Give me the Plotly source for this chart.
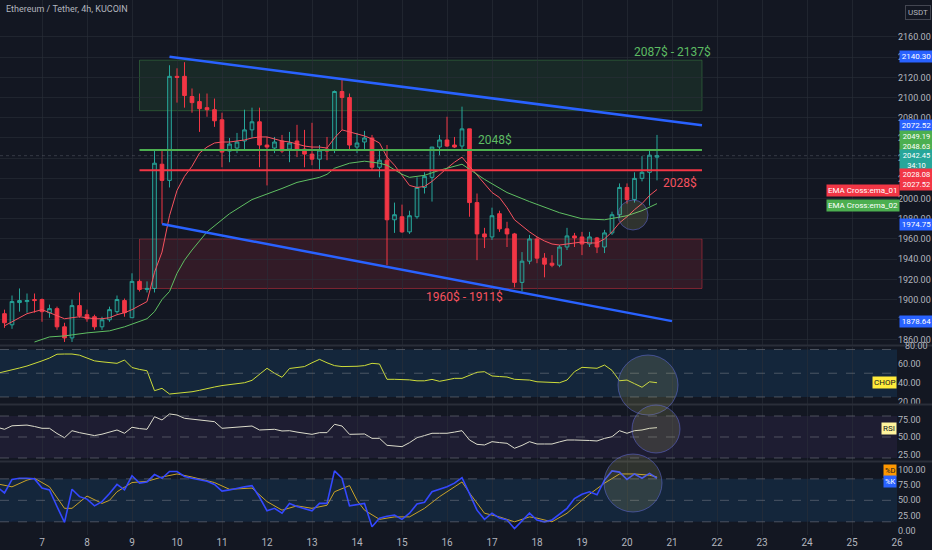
import pandas as pd
import plotly.graph_objects as go

# ETH/USDT 4h candles, candle n = 1..88 (n = 0 is 2023-11-06 00:00)
opens = [1886, 1875, 1897, 1898, 1900, 1900, 1887, 1891, 1873, 1862,
         1894, 1885, 1883, 1873, 1880, 1888, 1899, 1882, 1918, 1910,
         1911, 2034, 2018, 2121, 2121, 2101, 2096, 2090, 2088, 2078,
         2047, 2050, 2057, 2068, 2076, 2053, 2050, 2057, 2049, 2057,
         2049, 2044, 2039, 2049, 2048, 2106, 2100, 2051, 2056, 2060,
         2031, 2038, 1979, 1982, 1967, 1982, 2011, 2021, 2051, 2058,
         2053, 2052, 2069, 1996, 1965, 1962, 1985, 1970, 1965, 1917,
         1938, 1960, 1941, 1936, 1934, 1952, 1963, 1962, 1955, 1961,
         1952, 1966, 1984, 2011, 1999, 2020, 2026, 2041]
highs = [1890, 1904, 1911, 1906, 1906, 1901, 1895, 1893, 1877, 1900,
         1907, 1890, 1885, 1883, 1893, 1904, 1901, 1926, 1920, 1918,
         2048, 2048, 2132, 2129, 2135, 2109, 2104, 2104, 2099, 2085,
         2060, 2065, 2088, 2090, 2090, 2061, 2061, 2063, 2066, 2073,
         2068, 2075, 2053, 2061, 2107, 2118, 2104, 2065, 2067, 2063,
         2048, 2053, 1996, 1994, 1988, 2021, 2026, 2051, 2063, 2081,
         2061, 2091, 2069, 2005, 1971, 1991, 1988, 1977, 1966, 1947,
         1964, 1962, 1946, 1944, 1954, 1971, 1966, 1967, 1967, 1962,
         1969, 1987, 2015, 2015, 2026, 2042, 2048, 2063]
lows = [1872, 1871, 1888, 1887, 1887, 1878, 1882, 1870, 1858, 1858,
        1882, 1878, 1870, 1870, 1878, 1886, 1883, 1882, 1908, 1907,
        1907, 1975, 2011, 2095, 2090, 2085, 2066, 2081, 2071, 2031,
        2036, 2045, 2048, 2060, 2031, 2013, 2045, 2045, 2036, 2041,
        2031, 2033, 2028, 2038, 2045, 2068, 2048, 2045, 2048, 2028,
        2021, 1934, 1966, 1966, 1965, 1980, 2005, 1997, 2043, 2051,
        2050, 2048, 1982, 1939, 1951, 1959, 1967, 1952, 1912, 1908,
        1935, 1936, 1922, 1932, 1932, 1949, 1952, 1944, 1952, 1946,
        1946, 1964, 1981, 1995, 1996, 2017, 1993, 2018]
closes = [1877, 1898, 1899, 1899, 1899, 1888, 1891, 1873, 1862, 1894,
          1884, 1881, 1873, 1880, 1890, 1900, 1887, 1918, 1910, 1911,
          2035, 2018, 2121, 2120, 2102, 2095, 2089, 2088, 2077, 2046,
          2054, 2056, 2068, 2076, 2053, 2051, 2056, 2047, 2055, 2048,
          2044, 2039, 2048, 2047, 2106, 2100, 2053, 2055, 2060, 2031,
          2038, 1979, 1984, 1967, 1983, 2011, 2022, 2051, 2058, 2052,
          2051, 2069, 1996, 1965, 1962, 1983, 1970, 1965, 1917, 1938,
          1960, 1941, 1935, 1934, 1952, 1963, 1961, 1955, 1962, 1952,
          1966, 1984, 2011, 1999, 2020, 2026, 2043, 2042.45]

# EMA Cross: ema_01 (per candle n = 1..88), ema_02 (read at candle indices)
ema_01 = [1874, 1878, 1882, 1886, 1888, 1890, 1887, 1884, 1881, 1882,
          1883, 1882, 1881, 1881, 1882, 1885, 1887, 1890, 1894, 1898,
          1927, 1947, 1983, 2008, 2022, 2032, 2045, 2051, 2055, 2056,
          2056, 2057, 2058, 2060, 2061, 2061, 2059, 2057, 2056, 2054,
          2052, 2051, 2051, 2050, 2060, 2068, 2066, 2064, 2062, 2059,
          2055, 2041, 2033, 2023, 2013, 2011, 2012, 2017, 2024, 2030,
          2036, 2041, 2032, 2023, 2014, 2006, 2001, 1991, 1979, 1973,
          1967, 1962, 1958, 1955, 1954, 1955, 1956, 1957, 1956, 1956,
          1960, 1967, 1976, 1982, 1989, 1995, 2003, 2009]
ema_02_idx = [5, 7, 9, 12, 15, 17, 20, 21, 22, 23, 24, 25, 26, 28, 31, 34, 38, 40, 43, 44,
              45, 47, 49, 51, 52, 54, 55, 57, 59, 62, 63, 65, 68, 71, 75, 78, 81, 83, 84, 86, 88]
ema_02 = [1858, 1863, 1864, 1867, 1869, 1873, 1881, 1888, 1900, 1908, 1926, 1939, 1949, 1967,
          1985, 1999, 2010, 2016, 2021, 2024, 2030, 2035, 2037, 2035, 2033, 2024, 2021, 2023,
          2028, 2034, 2029, 2019, 2006, 1997, 1986, 1980, 1979, 1982, 1983, 1988, 1995]

# indicators, per candle n = 0..88
chop = [49.8, 51.5, 53.5, 55.5, 57.6, 60, 63, 66, 70, 70.2,
        70.2, 69, 66, 63, 62, 61, 60.4, 63.9, 56, 54,
        52.6, 31.6, 34.1, 28.1, 28.8, 29.5, 30.5, 32, 34, 35.5,
        37, 38, 39, 40, 42.5, 49, 55.2, 50, 45.7, 55,
        56, 57, 61, 64.6, 61, 58, 57, 57, 57.3, 58,
        60.4, 59.7, 43.6, 43.6, 43.5, 43, 42, 42, 43.5, 41.5,
        43, 44.6, 44.6, 47.5, 51, 51.6, 47.1, 46.5, 46, 43.6,
        43, 42.8, 41, 40.5, 40.3, 40, 42.8, 51.6, 56.2, 55.5,
        55.2, 58.6, 53, 42.1, 42.8, 39, 35.2, 41, 40]
rsi = [63.9, 61, 66, 67, 67, 65, 62.4, 62.4, 55, 49,
       59, 56.2, 54, 52, 54, 57, 60, 55.3, 63.9, 62,
       61, 79, 74.3, 82.9, 81.4, 76.7, 75.5, 74.3, 73, 71.9,
       62.4, 63, 63.9, 65, 65.7, 60, 60.5, 61, 58.6, 59,
       57, 55, 53.8, 56.2, 56.2, 68.1, 65.7, 53.8, 54, 54.3,
       48.1, 48.1, 38.1, 37, 36.2, 41.9, 49, 52, 55.3, 55.3,
       55.3, 57, 59, 45.7, 39.5, 38.6, 43.3, 42, 41, 33.9,
       38, 43.3, 40, 40, 40, 43, 45.7, 45.7, 45.7, 45,
       44.3, 48, 50.4, 59, 55.3, 59, 60, 62.4, 63.3]
stoch_k = [72, 62, 84, 86, 86, 85, 70, 67, 40, 14,
           68, 56, 52, 41, 48, 61, 76, 67, 90, 78,
           80, 92, 86, 97, 97, 89, 86, 84, 81, 76,
           65, 67, 70, 72, 74, 55, 33, 37, 29, 45,
           40, 36, 33, 45, 45, 98, 86, 41, 43, 45,
           7, 21, 24, 26, 19, 29, 44, 47, 64, 68,
           72, 78, 87, 61, 34, 19, 29, 21, 18, 4,
           17, 29, 18, 15, 18, 28, 37, 53, 60, 64,
           59, 83, 98, 96, 84, 93, 86, 94, 86]
stoch_d_idx = [0, 2, 4, 5, 7, 9, 10, 12, 14, 15, 16, 18, 20, 22, 24, 26, 29, 31, 34, 36,
               38, 40, 42, 44, 45, 47, 48, 49, 51, 53, 55, 57, 59, 61, 62, 63, 65, 67, 69, 71,
               72, 74, 76, 78, 79, 81, 83, 85, 87, 88]
stoch_d = [77, 72, 83, 86, 72, 37, 37, 57, 45, 50, 64, 79, 81, 88, 93, 88, 79, 68, 70, 48,
           34, 41, 37, 42, 64, 74, 50, 34, 19, 23, 23, 37, 56, 72, 80, 62, 29, 23, 15, 23,
           21, 15, 29, 50, 60, 78, 93, 93, 91, 88]

day_ticks = list(range(7, 27))

T0 = pd.Timestamp("2023-11-06 00:00")


def at(n):
    return T0 + pd.Timedelta(hours=4 * n)


candle_x = [at(n) for n in range(1, len(opens) + 1)]
ind_x = [at(n) for n in range(len(chop))]

BG = "#131722"
TXT = "#b2b5be"
GRID = "rgba(42,46,57,0.6)"
PW, PH = 897, 535   # plot area in pixels


def px(x):
    return x / PW


def py(y):
    return (PH - y) / PH


fig = go.Figure()

fig.add_trace(go.Candlestick(
    x=candle_x, open=opens, high=highs, low=lows, close=closes,
    increasing=dict(line=dict(color="#26a69a", width=1), fillcolor="rgba(38,166,154,0.12)"),
    decreasing=dict(line=dict(color="#f23645", width=1), fillcolor="#f23645"),
    whiskerwidth=0, xaxis="x", yaxis="y", showlegend=False))

fig.add_trace(go.Scatter(x=candle_x, y=ema_01, mode="lines",
                         line=dict(color="#f7525f", width=1), yaxis="y"))
fig.add_trace(go.Scatter(x=[at(n) for n in ema_02_idx], y=ema_02, mode="lines",
                         line=dict(color="#5fbf62", width=1), yaxis="y"))

fig.add_trace(go.Scatter(x=ind_x, y=chop, mode="lines",
                         line=dict(color="#cddc39", width=1), yaxis="y2"))
fig.add_trace(go.Scatter(x=ind_x, y=rsi, mode="lines",
                         line=dict(color="#dcdccc", width=1), yaxis="y3"))
fig.add_trace(go.Scatter(x=[at(n) for n in stoch_d_idx], y=stoch_d, mode="lines",
                         line=dict(color="#c9a227", width=1), yaxis="y4"))
fig.add_trace(go.Scatter(x=ind_x, y=stoch_k, mode="lines",
                         line=dict(color="#3448ff", width=1.6), yaxis="y4"))

shapes = []
# zones and levels
shapes.append(dict(type="rect", xref="x", yref="y", x0=at(19), x1=at(94), y0=2087, y1=2137,
                   fillcolor="rgba(76,175,80,0.12)", line=dict(color="rgba(76,175,80,0.35)", width=1),
                   layer="below"))
shapes.append(dict(type="rect", xref="x", yref="y", x0=at(19), x1=at(94), y0=1911, y1=1960,
                   fillcolor="rgba(242,54,69,0.14)", line=dict(color="rgba(242,54,69,0.45)", width=1),
                   layer="below"))
shapes.append(dict(type="line", xref="x", yref="y", x0=at(19), x1=at(94), y0=2048, y1=2048,
                   line=dict(color="#4caf50", width=2)))
shapes.append(dict(type="line", xref="x", yref="y", x0=at(19), x1=at(94), y0=2028, y1=2028,
                   line=dict(color="#f23645", width=2)))
# channel
shapes.append(dict(type="line", xref="x", yref="y", x0=at(23), x1=at(94), y0=2140.3, y1=2072.52,
                   line=dict(color="#2962ff", width=2.5)))
shapes.append(dict(type="line", xref="x", yref="y", x0=at(22), x1=at(90), y0=1974.75, y1=1878.64,
                   line=dict(color="#2962ff", width=2.5)))
# last price line
shapes.append(dict(type="line", xref="paper", yref="y", x0=0, x1=1, y0=2042.45, y1=2042.45,
                   line=dict(color="rgba(120,123,134,0.35)", width=1, dash="dot")))

# indicator bands
for yr, lo, hi, fill in [("y2", 25, 75, "rgba(33,150,243,0.12)"),
                         ("y3", 20, 80, "rgba(126,87,194,0.10)"),
                         ("y4", 15, 85, "rgba(33,150,243,0.12)")]:
    shapes.append(dict(type="rect", xref="paper", yref=yr, x0=0, x1=1, y0=lo, y1=hi,
                       fillcolor=fill, line=dict(width=0), layer="below"))
    for lv in (lo, (lo + hi) / 2, hi):
        shapes.append(dict(type="line", xref="paper", yref=yr, x0=0, x1=1, y0=lv, y1=lv,
                           line=dict(color="rgba(120,123,134,0.55)", width=1, dash="dash")))

# pane separators
for sy in (345.5, 404.5, 461.5):
    shapes.append(dict(type="line", xref="paper", yref="paper", x0=0, x1=1.04, y0=py(sy), y1=py(sy),
                       line=dict(color="#2a2e39", width=2)))

# highlight circles
for cx, cy, r in [(633, 215, 15), (648, 385, 30), (656, 429, 24), (633, 483, 29)]:
    shapes.append(dict(type="circle", xref="paper", yref="paper",
                       x0=px(cx - r), x1=px(cx + r), y0=py(cy + r), y1=py(cy - r),
                       fillcolor="rgba(200,200,120,0.16)",
                       line=dict(color="rgba(100,110,230,0.5)", width=1)))

ann = []
FONT = "Roboto"


def text(x, y, s, color, size=12, xref="x", yref="y"):
    ann.append(dict(x=x, y=y, xref=xref, yref=yref, text=s, showarrow=False,
                    font=dict(color=color, size=size, family=FONT)))


text(at(90), 2145, "2087$ - 2137$", "#5dbb63")
text(at(66.4), 2058, "2048$", "#5dbb63")
text(at(91), 2015.5, "2028$", "#f7525f")
text(at(62.3), 1902.5, "1960$ - 1911$", "#f7525f")


def tag(y, s, bg, fg="white", yref="paper", anchor="left", xshift=2, size=8, width=None):
    ann.append(dict(x=1, y=y, xref="paper", yref=yref, text=s, showarrow=False,
                    xanchor=anchor, yanchor="middle", xshift=xshift, bgcolor=bg,
                    borderpad=1, width=width,
                    font=dict(color=fg, size=size, family=FONT)))


# price scale tags
tag(2140.3, "2140.30", "#2962ff", yref="y", width=31)
tag(2072.52, "2072.52", "#2962ff", yref="y", width=31)
tag(1974.75, "1974.75", "#2962ff", yref="y", width=31)
tag(1878.64, "1878.64", "#2962ff", yref="y", width=31)
tag(py(141), "2049.19<br>2048.63", "#4caf50", size=7.5, width=31)
tag(py(160), "2042.45<br>34:10", "#26a69a", size=7.5, width=31)
tag(py(179), "2028.08<br>2027.52", "#f23645", size=7.5, width=31)
# indicator name tags
tag(py(190), "EMA Cross:ema_01", "#f23645", anchor="right", xshift=3)
tag(py(206), "EMA Cross:ema_02", "#4caf50", anchor="right", xshift=3)
tag(py(383), "CHOP", "#ffeb3b", fg="#131722", anchor="right", xshift=0)
tag(py(428), "RSI", "#fff59d", fg="#131722", anchor="right", xshift=0)
tag(py(470), "%D", "#ff9800", fg="#131722", anchor="right", xshift=0, size=7.5)
tag(py(481), "%K", "#2962ff", anchor="right", xshift=0, size=7.5)

ann.append(dict(x=1, y=py(12), xref="paper", yref="paper", text="USDT", showarrow=False,
                xanchor="left", yanchor="middle", xshift=8, bgcolor=BG, bordercolor="#434651",
                borderwidth=1, borderpad=2, font=dict(color=TXT, size=8, family=FONT)))
ann.append(dict(x=1, y=py(346), xref="paper", yref="paper", text="80.00", showarrow=False,
                xanchor="left", yanchor="middle", xshift=6, font=dict(color=TXT, size=9, family=FONT)))
ann.append(dict(x=0.004, y=py(9), xref="paper", yref="paper", text="Ethereum / Tether, 4h, KUCOIN",
                showarrow=False, xanchor="left", yanchor="middle",
                font=dict(color=TXT, size=9, family=FONT)))

yax = dict(side="right", anchor="x", showline=False, zeroline=False, ticks="",
           tickfont=dict(color=TXT, size=9, family=FONT), tickformat=".2f")

fig.update_layout(
    width=932, height=550,
    margin=dict(l=0, r=35, t=0, b=15),
    paper_bgcolor=BG, plot_bgcolor=BG,
    showlegend=False,
    xaxis=dict(type="date", domain=[0, 1], anchor="y4",
               range=[at(0.4), pd.Timestamp("2023-11-26")],
               tickvals=[pd.Timestamp(2023, 11, d) for d in day_ticks],
               ticktext=[str(d) for d in day_ticks],
               showgrid=True, gridcolor=GRID, zeroline=False, showline=False, ticks="",
               tickfont=dict(color=TXT, size=10, family=FONT),
               rangeslider=dict(visible=False)),
    yaxis=dict(yax, domain=[py(345), 1], range=[1855.0, 2196.6],
               tickvals=list(range(1860, 2161, 20)), showgrid=True, gridcolor=GRID),
    yaxis2=dict(yax, domain=[py(404), py(347)], range=[17.6, 77.6],
                tickvals=[20, 40, 60], showgrid=False),
    yaxis3=dict(yax, domain=[py(461), py(405)], range=[15.7, 95.7],
                tickvals=[25, 50, 75], showgrid=False),
    yaxis4=dict(yax, domain=[0, py(462)], range=[-6.5, 112.5],
                tickvals=[0, 25, 50, 75, 100], showgrid=False),
    shapes=shapes,
    annotations=ann,
)

fig.write_html("out.html", config={"displayModeBar": False},
               post_script="document.body.style.margin='0';"
                           "document.body.style.background='#131722';")
